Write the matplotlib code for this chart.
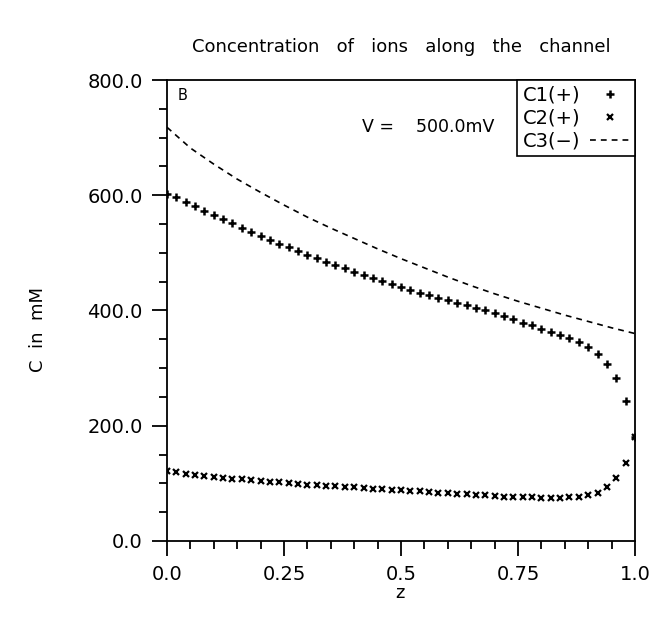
import numpy as np
import matplotlib
matplotlib.use('Agg')
import matplotlib.pyplot as plt
from matplotlib.ticker import MultipleLocator, FixedLocator, FixedFormatter

# positions along the channel (step 0.02) for the two cations
z = np.round(np.arange(0, 51) * 0.02, 2)
c1 = [603, 597, 589, 581, 573, 566, 558, 551, 544, 537,
      530, 523, 516, 510, 503, 497, 491, 485, 479, 473,
      467, 462, 456, 451, 446, 441, 436, 431, 427, 422,
      418, 413, 409, 404, 400, 395, 391, 386, 379, 374,
      368, 363, 357, 352, 345, 336, 325, 307, 282, 243, 180]
c2 = [121, 119, 117, 115, 113, 111, 110, 108, 107, 105,
      104, 103, 102, 101, 99, 98, 97, 96, 95, 94,
      93, 92, 91, 90, 89, 88, 87, 86, 85, 84,
      83, 82, 81, 80, 79, 78, 77, 77, 76, 76,
      75, 75, 75, 76, 77, 80, 84, 93, 109, 136, 180]
# anion profile (step 0.05)
z3 = np.round(np.arange(0, 21) * 0.05, 2)
c3 = [718, 682, 654, 628, 605, 583, 562, 543, 525, 507,
      490, 474, 458, 443, 429, 416, 404, 392, 381, 370, 360]

xticks = [0.0, 0.25, 0.5, 0.75, 1.0]
xticklabels = ['0.0', '0.25', '0.5', '0.75', '1.0']
yticks = [0, 200, 400, 600, 800]
yticklabels = ['0.0', '200.0', '400.0', '600.0', '800.0']

fig = plt.figure(figsize=(6.52, 6.30), dpi=100)
ax = fig.add_axes([0.2561, 0.1413, 0.7178, 0.7317])

ax.plot(z, c1, linestyle='none', marker='+', markersize=6, mew=1.8,
        color='black', label='C1(+)')
ax.plot(z, c2, linestyle='none', marker='x', markersize=4.5, mew=1.6,
        color='black', label='C2(+)')
ax.plot(z3, c3, linestyle=(0, (3.5, 3)), lw=1.2, color='black', label='C3(\u2212)')

ax.set_xlim(0, 1)
ax.set_ylim(0, 800)
ax.xaxis.set_major_locator(FixedLocator(xticks))
ax.xaxis.set_major_formatter(FixedFormatter(xticklabels))
ax.xaxis.set_minor_locator(MultipleLocator(0.05))
ax.yaxis.set_major_locator(FixedLocator(yticks))
ax.yaxis.set_major_formatter(FixedFormatter(yticklabels))
ax.yaxis.set_minor_locator(MultipleLocator(50))
ax.tick_params(which='both', direction='out', width=1.3, colors='black',
               labelsize=14, top=False, right=False)
ax.tick_params(which='major', length=10.5, pad=7)
ax.tick_params(which='minor', length=6)
for s in ax.spines.values():
    s.set_linewidth(1.3)

ax.set_title('Concentration   of   ions   along   the   channel', fontsize=13,
             y=1.0716, va='center', pad=0)
ax.set_xlabel('z', fontsize=13, va='center')
ax.xaxis.set_label_coords(0.498, -0.113)
ax.set_ylabel('C  in  mM', fontsize=13, va='center')
ax.yaxis.set_label_coords(-0.2756, 0.458)

ax.text(0.0235, 0.982, 'B', transform=ax.transAxes, fontsize=10.5, va='top')
ax.text(0.4167, 0.898, 'V =    500.0mV', transform=ax.transAxes,
        fontsize=12.5, va='center')

leg = ax.legend(loc='upper right', markerfirst=False, fancybox=False,
                edgecolor='black', framealpha=1, borderaxespad=0,
                fontsize=14, handlelength=2.0, handletextpad=0.5,
                labelspacing=0.2, borderpad=0.3, numpoints=1)
leg.get_frame().set_linewidth(1.2)

fig.savefig('out.png', dpi=100)
